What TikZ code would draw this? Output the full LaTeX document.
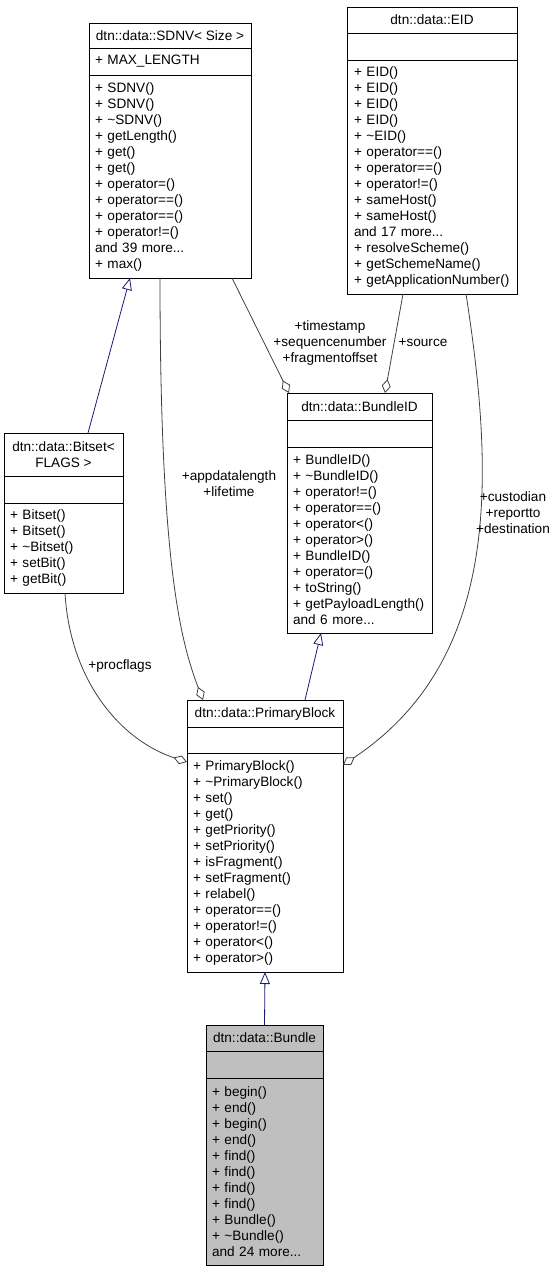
\documentclass[tikz,border=0pt]{standalone}
\usepackage{fontspec}
\setmainfont{Liberation Sans}
\usetikzlibrary{arrows.meta, positioning}
\newcommand{\clsfont}{\fontsize{13.6pt}{16pt}\selectfont}
\definecolor{inhblue}{HTML}{191970}
\definecolor{aggrey}{HTML}{404040}
\definecolor{hilite}{HTML}{BFBFBF}
\tikzset{
  cls/.style={draw=black, line width=0.8pt, fill=white, inner xsep=6pt, inner ysep=2pt, outer sep=0pt, font=\clsfont},
  ctitle/.style={cls, align=center},
  members/.style={cls, align=left},
  cempty/.style={cls, minimum height=27pt},
  role/.style={align=center, inner sep=0pt, font=\clsfont},
  inherit/.style={-{Triangle[open, length=12pt, width=10pt]}, draw=inhblue, line width=0.8pt},
  agg/.style={{Diamond[open, length=14pt, width=9pt]}-, draw=aggrey, line width=0.8pt}
}

\begin{document}
\begin{tikzpicture}[x=1pt, y=-1pt]
    \useasboundingbox (0,0) rectangle (553,1272);

    % SDNV
    \node[ctitle, minimum width=162pt, minimum height=25pt, anchor=north west] (sdnv) at (89,23) {dtn::data::SDNV< Size >};
    \node[members, text width=150pt, minimum height=27pt, below=0pt of sdnv] (sdnv-a) {+ MAX\_LENGTH};
    \node[members, text width=150pt, minimum height=203pt, below=0pt of sdnv-a] (sdnv-m) {+ SDNV()\\+ SDNV()\\+ \textasciitilde SDNV()\\+ getLength()\\+ get()\\+ get()\\+ operator=()\\+ operator==()\\+ operator==()\\+ operator!=()\\and 39 more...\\+ max()};

    % EID
    \node[ctitle, minimum width=170pt, minimum height=26pt, anchor=north west] (eid) at (347,7) {dtn::data::EID};
    \node[cempty, minimum width=170pt, below=0pt of eid] (eid-a) {};
    \node[members, text width=156pt, minimum height=234pt, inner xsep=7pt, below=0pt of eid-a] (eid-m) {+ EID()\\+ EID()\\+ EID()\\+ EID()\\+ \textasciitilde EID()\\+ operator==()\\+ operator==()\\+ operator!=()\\+ sameHost()\\+ sameHost()\\and 17 more...\\+ resolveScheme()\\+ getSchemeName()\\+ getApplicationNumber()};

    % BundleID
    \node[ctitle, minimum width=145pt, minimum height=27pt, anchor=north west] (bid) at (287,393) {dtn::data::BundleID};
    \node[cempty, minimum width=145pt, below=0pt of bid] (bid-a) {};
    \node[members, text width=133pt, minimum height=186pt, below=0pt of bid-a] (bid-m) {+ BundleID()\\+ \textasciitilde BundleID()\\+ operator!=()\\+ operator==()\\+ operator<()\\+ operator>()\\+ BundleID()\\+ operator=()\\+ toString()\\+ getPayloadLength()\\and 6 more...};

    % Bitset
    \node[ctitle, minimum width=119pt, minimum height=43pt, anchor=north west] (bitset) at (4,433) {dtn::data::Bitset<\\FLAGS >};
    \node[cempty, minimum width=119pt, below=0pt of bitset] (bitset-a) {};
    \node[members, text width=107pt, minimum height=90pt, below=0pt of bitset-a] (bitset-m) {+ Bitset()\\+ Bitset()\\+ \textasciitilde Bitset()\\+ setBit()\\+ getBit()};

    % PrimaryBlock
    \node[ctitle, minimum width=156pt, minimum height=27pt, anchor=north west] (pblock) at (187,700) {dtn::data::PrimaryBlock};
    \node[cempty, minimum width=156pt, minimum height=26pt, below=0pt of pblock] (pblock-a) {};
    \node[members, text width=144pt, minimum height=219pt, below=0pt of pblock-a] (pblock-m) {+ PrimaryBlock()\\+ \textasciitilde PrimaryBlock()\\+ set()\\+ get()\\+ getPriority()\\+ setPriority()\\+ isFragment()\\+ setFragment()\\+ relabel()\\+ operator==()\\+ operator!=()\\+ operator<()\\+ operator>()};

    % Bundle
    \node[ctitle, fill=hilite, minimum width=117pt, minimum height=26pt, anchor=north west] (bundle) at (206,1025) {dtn::data::Bundle};
    \node[cempty, fill=hilite, minimum width=117pt, below=0pt of bundle] (bundle-a) {};
    \node[members, fill=hilite, text width=105pt, minimum height=187pt, below=0pt of bundle-a] (bundle-m) {+ begin()\\+ end()\\+ begin()\\+ end()\\+ find()\\+ find()\\+ find()\\+ find()\\+ Bundle()\\+ \textasciitilde Bundle()\\and 24 more...};

    % inheritance
    \draw[inherit] ([xshift=84pt]bitset.north west) -- ([xshift=41pt]sdnv-m.south west);
    \draw[inherit] ([xshift=118pt]pblock.north west) -- ([xshift=34pt]bid-m.south west);
    \draw[inherit] (bundle.north) -- (pblock-m.south);

    % members
    \draw[agg] ([xshift=2pt]bid.north west) -- ([xshift=143pt]sdnv-m.south west);
    \draw[agg] ([xshift=98pt]bid.north west) -- ([xshift=56pt]eid-m.south west);
    \draw[agg] ([xshift=16pt]pblock.north west) .. controls (180,640) and (160,560) .. ([xshift=71pt]sdnv-m.south west);
    \draw[agg] ([yshift=-9pt]pblock-m.north west) .. controls (120,740) and (70,680) .. ([xshift=61pt]bitset-m.south west);
    \draw[agg] ([yshift=-12pt]pblock-m.north east) .. controls (500,660) and (495,480) .. ([xshift=119pt]eid-m.south west);

    \node[role] (l-ts) at (330,343) {+timestamp\\+sequencenumber\\+fragmentoffset};
    \node[role] (l-src) at (423,343) {+source};
    \node[role] (l-app) at (229,484) {+appdatalength\\+lifetime};
    \node[role] (l-dst) at (513,513) {+custodian\\+reportto\\+destination};
    \node[role] (l-proc) at (120,666) {+procflags};
\end{tikzpicture}
\end{document}
